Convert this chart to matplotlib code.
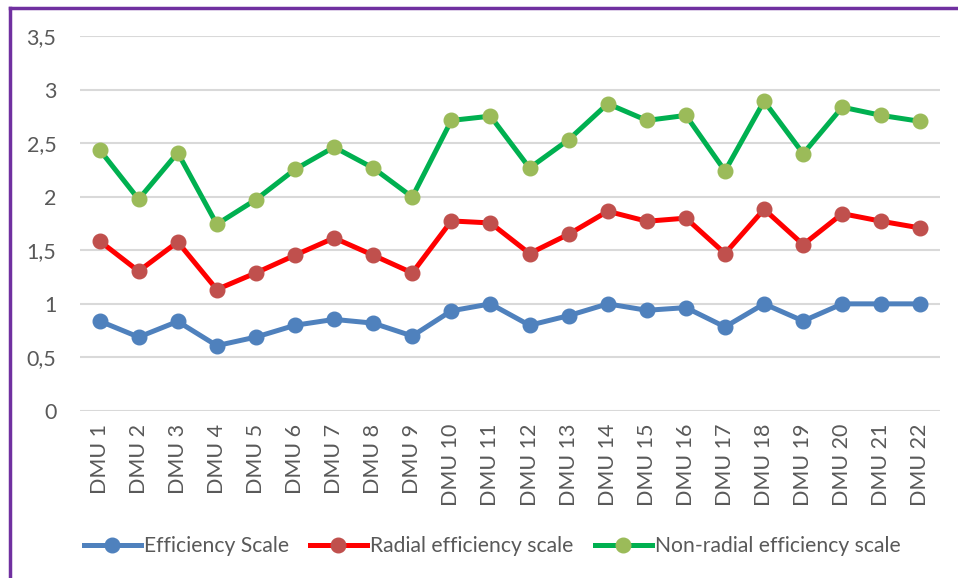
import matplotlib
matplotlib.use("Agg")
import matplotlib.pyplot as plt
from matplotlib.lines import Line2D

categories = [f"DMU {i}" for i in range(1, 23)]
efficiency_scale = [0.84, 0.69, 0.836, 0.61, 0.69, 0.80, 0.855, 0.82, 0.70, 0.935, 1.0,
                    0.80, 0.89, 1.0, 0.94, 0.965, 0.785, 1.0, 0.84, 1.0, 1.0, 1.0]
radial_scale = [1.587, 1.305, 1.578, 1.134, 1.289, 1.454, 1.615, 1.454, 1.289, 1.774, 1.755,
                1.47, 1.65, 1.864, 1.771, 1.80, 1.47, 1.883, 1.553, 1.842, 1.771, 1.708]
nonradial_scale = [2.439, 1.976, 2.411, 1.743, 1.973, 2.255, 2.463, 2.268, 1.997, 2.712, 2.752,
                   2.268, 2.532, 2.868, 2.712, 2.759, 2.24, 2.892, 2.402, 2.836, 2.759, 2.703]
yticks = [0, 0.5, 1, 1.5, 2, 2.5, 3, 3.5]
ytick_labels = ["0", "0,5", "1", "1,5", "2", "2,5", "3", "3,5"]
series_names = ["Efficiency Scale", "Radial efficiency scale", "Non-radial efficiency scale"]

plt.rcParams['font.family'] = ['Lato', 'DejaVu Sans']
txt = "#595959"

fig = plt.figure(figsize=(9.58, 5.78), dpi=100)
W, H = 958, 578
ax = fig.add_axes([80 / W, 1 - 411 / H, (940 - 80) / W, (411 - 36) / H])

x = list(range(len(categories)))
specs = [
    (efficiency_scale, "#4F81BD", "#4F81BD"),
    (radial_scale, "#FF0000", "#C0504D"),
    (nonradial_scale, "#00B050", "#9BBB59"),
]
handles = []
for (vals, lc, mc), name in zip(specs, series_names):
    ax.plot(x, vals, color=lc, lw=3.6, marker="o", markersize=10.5,
            markerfacecolor=mc, markeredgecolor=mc, zorder=3, solid_capstyle="round")
    handles.append(Line2D([], [], color=lc, lw=3.6, marker="o", markersize=10.5,
                          markerfacecolor=mc, markeredgecolor=mc, label=name))

ax.set_xlim(-0.5, len(categories) - 0.5)
ax.set_ylim(0, 3.5)
ax.set_yticks(yticks)
ax.set_yticklabels(ytick_labels)
ax.set_xticks(x)
ax.set_xticklabels(categories, rotation=90)
ax.grid(axis="y", color="#D9D9D9", lw=1.5, zorder=0)
for s in ax.spines.values():
    s.set_visible(False)
ax.tick_params(axis="both", length=0, colors=txt, labelsize=15.5)
ax.tick_params(axis="y", pad=17)
ax.tick_params(axis="x", pad=9)

fig.legend(handles=handles, loc="center", bbox_to_anchor=(492 / W, 1 - 546 / H),
           ncol=3, frameon=False, fontsize=15.2, handlelength=2.7, handletextpad=0.15,
           columnspacing=1.0, labelcolor=txt)

# purple frame (left and top edges)
fig.add_artist(Line2D([9.8 / W, 9.8 / W], [0, 1 - 7.5 / H], color="#7030A0", lw=2.5,
                      transform=fig.transFigure))
fig.add_artist(Line2D([9.8 / W, 1], [1 - 7.5 / H, 1 - 7.5 / H], color="#7030A0", lw=2.5,
                      transform=fig.transFigure))

fig.savefig("out.png", dpi=100, facecolor="white")
